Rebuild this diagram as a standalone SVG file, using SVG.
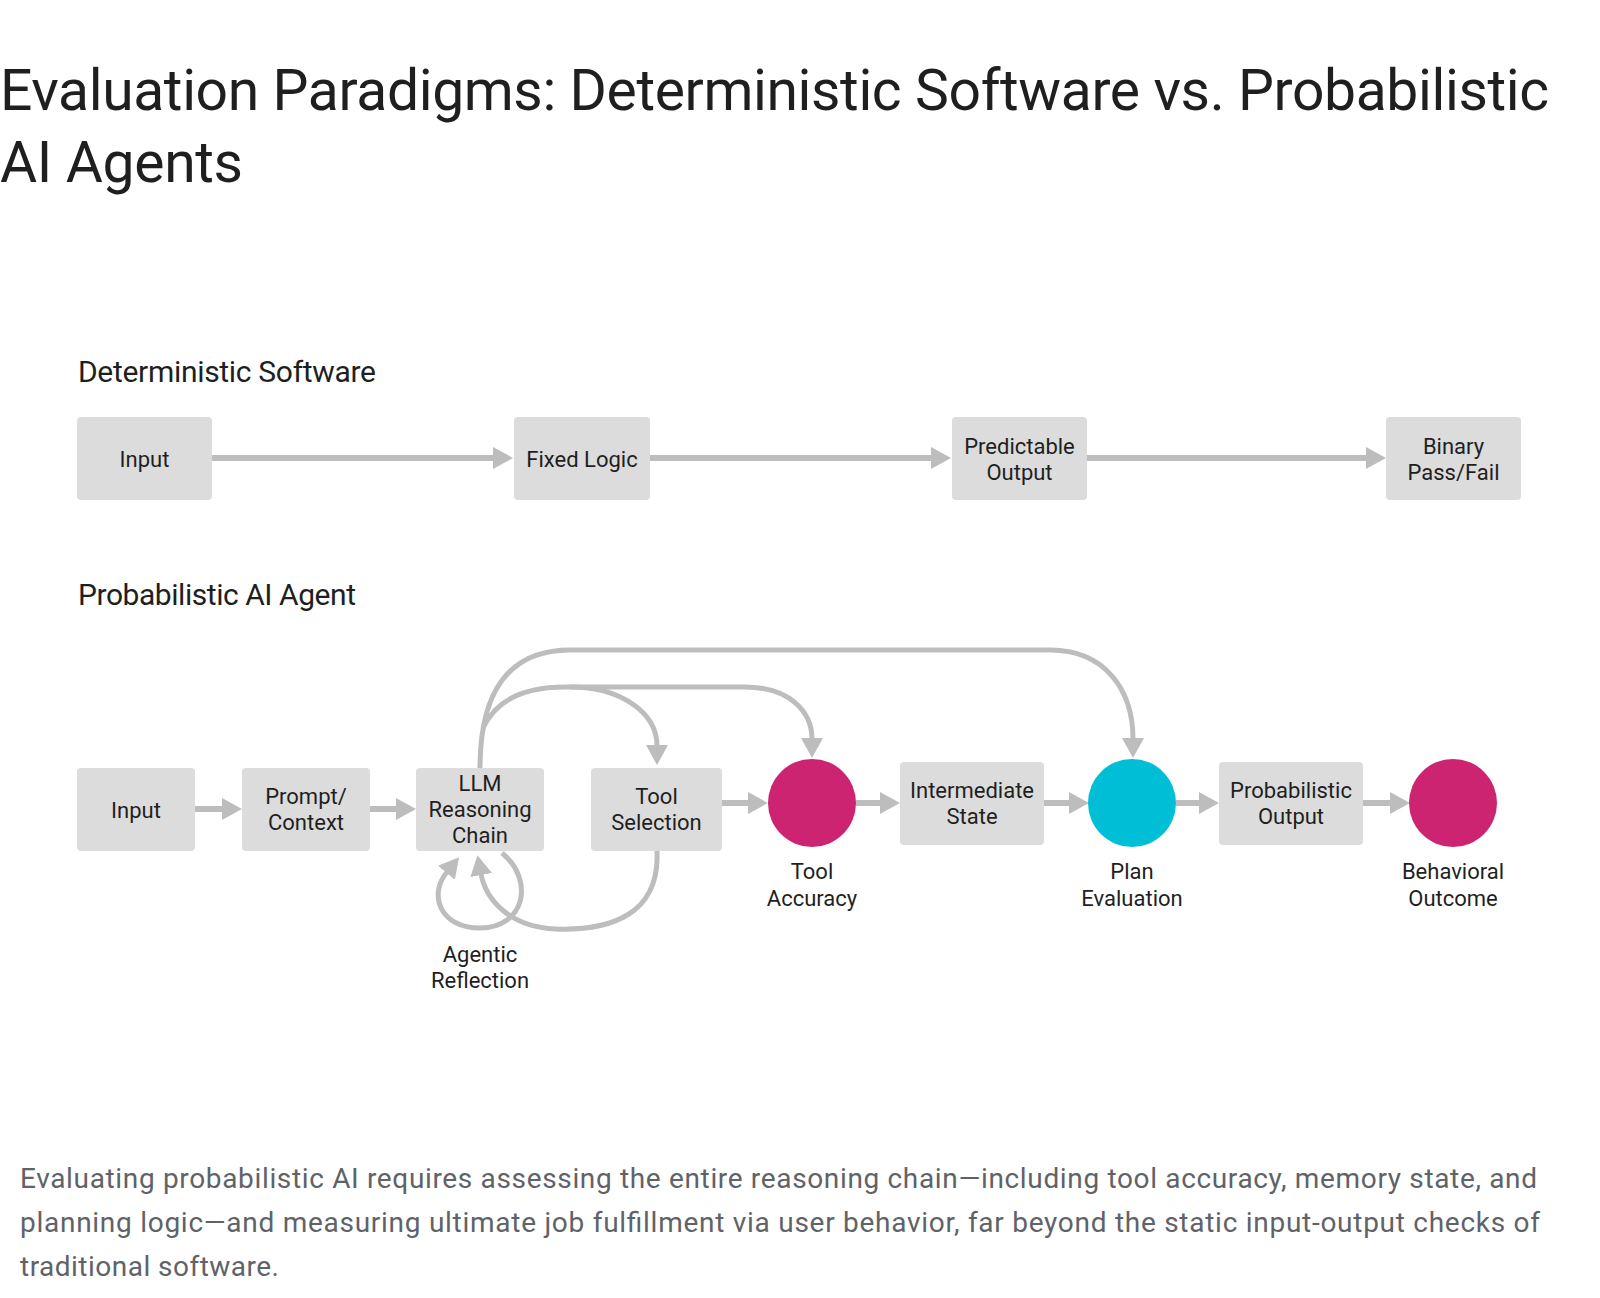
<svg xmlns="http://www.w3.org/2000/svg" width="1600" height="1298" viewBox="0 0 1600 1298">
<defs>
<style>
.box{fill:#dcdcdc}
.lbl{font-family:Roboto,"Liberation Sans",sans-serif;font-size:22px;fill:#1f1f1f;text-anchor:middle}
.head{font-family:Roboto,"Liberation Sans",sans-serif;font-size:30px;fill:#1f1f1f}
.title{font-family:Roboto,"Liberation Sans",sans-serif;font-size:57px;fill:#1f1f1f}
.cap{font-family:Roboto,"Liberation Sans",sans-serif;font-size:28px;fill:#5f6368}
.ln{fill:none;stroke:#bdbdbd;stroke-width:6}
.cv{fill:none;stroke:#bdbdbd;stroke-width:5}
.mag{fill:#cc2471}
.cyan{fill:#00bed6}
</style>
<marker id="ah" viewBox="0 0 20 22" refX="1" refY="11" markerWidth="20" markerHeight="22" markerUnits="userSpaceOnUse" orient="auto">
<path d="M0,0 L20,11 L0,22 Z" fill="#bdbdbd"/>
</marker>
</defs>
<rect width="1600" height="1298" fill="#ffffff"/>

<g id="title">
<text class="title" x="0" y="110" textLength="1549">Evaluation Paradigms: Deterministic Software vs. Probabilistic</text>
<text class="title" x="0" y="182" textLength="243">AI Agents</text>
</g>

<g id="section-deterministic">
<text class="head" x="78" y="382" textLength="298">Deterministic Software</text>
</g>
<g id="section-probabilistic">
<text class="head" x="78" y="605" textLength="278">Probabilistic AI Agent</text>
</g>

<g id="connectors">
<path class="ln" d="M212,458 H494" marker-end="url(#ah)"/>
<path class="ln" d="M650,458 H932" marker-end="url(#ah)"/>
<path class="ln" d="M1087,458 H1367" marker-end="url(#ah)"/>

<path class="ln" d="M195,809 H223" marker-end="url(#ah)"/>
<path class="ln" d="M370,809 H397" marker-end="url(#ah)"/>
<path class="ln" d="M722,803 H749" marker-end="url(#ah)"/>
<path class="ln" d="M856,803 H881" marker-end="url(#ah)"/>
<path class="ln" d="M1044,803 H1070" marker-end="url(#ah)"/>
<path class="ln" d="M1176,803 H1200" marker-end="url(#ah)"/>
<path class="ln" d="M1363,803 H1391" marker-end="url(#ah)"/>

<path class="cv" d="M480,768 C480,690 510,650 570,650 L1050,650 C1105,650 1133,690 1133,739" marker-end="url(#ah)"/>
<path class="cv" d="M483,728 C495,702 520,687 565,687 L745,687 C790,687 812,712 812,739" marker-end="url(#ah)"/>
<path class="cv" d="M570,687 C620,687 657,712 657,746" marker-end="url(#ah)"/>
<path class="cv" d="M657,851 C660,915 610,931 555,929 C510,927 486,900 481,874" marker-end="url(#ah)"/>
<path class="cv" d="M502,853 C535,880 525,928 480,928 C440,928 428,895 447,872" marker-end="url(#ah)"/>
</g>

<g id="det-input"><rect class="box" x="77" y="417" width="135" height="83" rx="4"/><text class="lbl" x="144.5" y="467">Input</text></g>
<g id="det-fixed-logic"><rect class="box" x="514" y="417" width="136" height="83" rx="4"/><text class="lbl" x="582" y="467">Fixed Logic</text></g>
<g id="det-predictable-output"><rect class="box" x="952" y="417" width="135" height="83" rx="4"/><text class="lbl" x="1019.5" y="454">Predictable</text><text class="lbl" x="1019.5" y="480">Output</text></g>
<g id="det-binary"><rect class="box" x="1386" y="417" width="135" height="83" rx="4"/><text class="lbl" x="1453.5" y="454">Binary</text><text class="lbl" x="1453.5" y="480">Pass/Fail</text></g>

<g id="prob-input"><rect class="box" x="77" y="768" width="118" height="83" rx="4"/><text class="lbl" x="136" y="818">Input</text></g>
<g id="prob-prompt"><rect class="box" x="242" y="768" width="128" height="83" rx="4"/><text class="lbl" x="306" y="804">Prompt/</text><text class="lbl" x="306" y="830">Context</text></g>
<g id="prob-llm"><rect class="box" x="416" y="768" width="128" height="83" rx="4"/><text class="lbl" x="480" y="791">LLM</text><text class="lbl" x="480" y="817">Reasoning</text><text class="lbl" x="480" y="843">Chain</text></g>
<g id="prob-tool-selection"><rect class="box" x="591" y="768" width="131" height="83" rx="4"/><text class="lbl" x="656.5" y="804">Tool</text><text class="lbl" x="656.5" y="830">Selection</text></g>
<g id="prob-tool-accuracy"><circle class="mag" cx="812" cy="803" r="44"/><text class="lbl" x="812" y="879">Tool</text><text class="lbl" x="812" y="906">Accuracy</text></g>
<g id="prob-intermediate"><rect class="box" x="900" y="762" width="144" height="83" rx="4"/><text class="lbl" x="972" y="798">Intermediate</text><text class="lbl" x="972" y="824">State</text></g>
<g id="prob-plan-eval"><circle class="cyan" cx="1132" cy="803" r="44"/><text class="lbl" x="1132" y="879">Plan</text><text class="lbl" x="1132" y="906">Evaluation</text></g>
<g id="prob-output"><rect class="box" x="1219" y="762" width="144" height="83" rx="4"/><text class="lbl" x="1291" y="798">Probabilistic</text><text class="lbl" x="1291" y="824">Output</text></g>
<g id="prob-behavioral"><circle class="mag" cx="1453" cy="803" r="44"/><text class="lbl" x="1453" y="879">Behavioral</text><text class="lbl" x="1453" y="906">Outcome</text></g>
<g id="agentic-reflection"><text class="lbl" x="480" y="962">Agentic</text><text class="lbl" x="480" y="988">Reflection</text></g>

<g id="caption">
<text class="cap" x="20" y="1188" textLength="1517">Evaluating probabilistic AI requires assessing the entire reasoning chain—including tool accuracy, memory state, and</text>
<text class="cap" x="20" y="1232" textLength="1520">planning logic—and measuring ultimate job fulfillment via user behavior, far beyond the static input-output checks of</text>
<text class="cap" x="20" y="1276" textLength="259">traditional software.</text>
</g>
</svg>
